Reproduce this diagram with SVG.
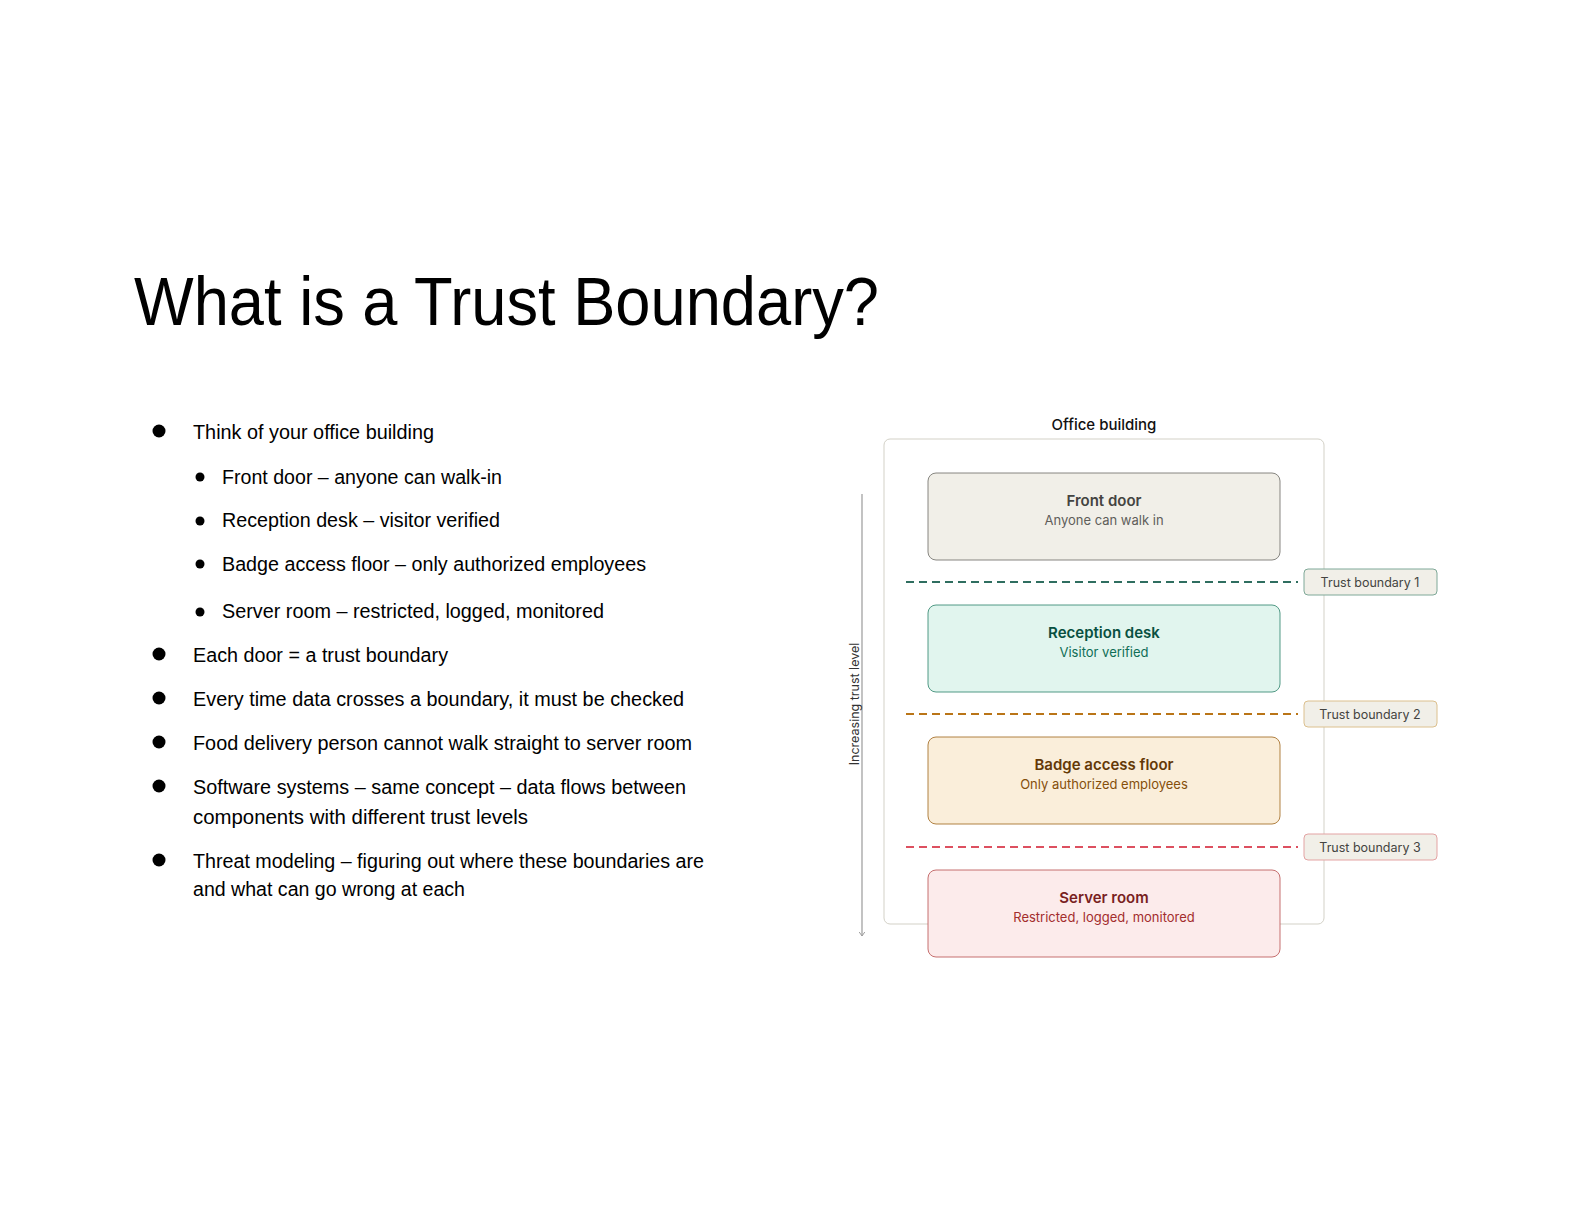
<svg xmlns="http://www.w3.org/2000/svg" width="1584" height="1224" viewBox="0 0 1584 1224">
  <defs>
    <style>
      .title { font-family: "Liberation Sans", Arial, sans-serif; font-size: 68px; fill: #000; }
      .body { font-family: "Liberation Sans", Arial, sans-serif; font-size: 20px; fill: #000; }
      .dg { font-family: Inter, "Liberation Sans", Arial, sans-serif; text-anchor: middle; }
      .bt { font-size: 15px; font-weight: 600; }
      .bs { font-size: 13px; }
      .lbl { font-size: 12.5px; fill: #444441; }
      .box { stroke-width: 0.9; }
      .tb { fill: none; stroke-width: 2; stroke-dasharray: 8 5; }
      .tag { fill: #f1efe8; stroke-width: 1; }
    </style>
    <marker id="arr" viewBox="0 0 10 10" refX="9" refY="5" markerWidth="8" markerHeight="8" orient="auto" markerUnits="userSpaceOnUse">
      <path d="M4 1.5 L9 5 L4 8.5" fill="none" stroke="#9a9a9a" stroke-width="1.2"/>
    </marker>
  </defs>
  <rect width="1584" height="1224" fill="#ffffff"/>

  <g id="title">
    <text class="title" x="134" y="325" textLength="745" lengthAdjust="spacingAndGlyphs">What is a Trust Boundary?</text>
  </g>

  <g id="bullets">
    <circle cx="159" cy="431" r="6.5" fill="#000"/>
    <text class="body" x="193" y="439" textLength="241" lengthAdjust="spacingAndGlyphs">Think of your office building</text>
    <circle cx="200" cy="477" r="4.5" fill="#000"/>
    <text class="body" x="222" y="484" textLength="280" lengthAdjust="spacingAndGlyphs">Front door – anyone can walk-in</text>
    <circle cx="200" cy="521" r="4.5" fill="#000"/>
    <text class="body" x="222" y="527" textLength="278" lengthAdjust="spacingAndGlyphs">Reception desk – visitor verified</text>
    <circle cx="200" cy="564" r="4.5" fill="#000"/>
    <text class="body" x="222" y="571" textLength="424" lengthAdjust="spacingAndGlyphs">Badge access floor – only authorized employees</text>
    <circle cx="200" cy="612" r="4.5" fill="#000"/>
    <text class="body" x="222" y="618" textLength="382" lengthAdjust="spacingAndGlyphs">Server room – restricted, logged, monitored</text>
    <circle cx="159" cy="654" r="6.5" fill="#000"/>
    <text class="body" x="193" y="662" textLength="255" lengthAdjust="spacingAndGlyphs">Each door = a trust boundary</text>
    <circle cx="159" cy="698" r="6.5" fill="#000"/>
    <text class="body" x="193" y="706" textLength="491" lengthAdjust="spacingAndGlyphs">Every time data crosses a boundary, it must be checked</text>
    <circle cx="159" cy="742" r="6.5" fill="#000"/>
    <text class="body" x="193" y="750" textLength="499" lengthAdjust="spacingAndGlyphs">Food delivery person cannot walk straight to server room</text>
    <circle cx="159" cy="786" r="6.5" fill="#000"/>
    <text class="body" x="193" y="794" textLength="493" lengthAdjust="spacingAndGlyphs">Software systems – same concept – data flows between</text>
    <text class="body" x="193" y="824" textLength="335" lengthAdjust="spacingAndGlyphs">components with different trust levels</text>
    <circle cx="159" cy="860" r="6.5" fill="#000"/>
    <text class="body" x="193" y="868" textLength="511" lengthAdjust="spacingAndGlyphs">Threat modeling – figuring out where these boundaries are</text>
    <text class="body" x="193" y="896" textLength="272" lengthAdjust="spacingAndGlyphs">and what can go wrong at each</text>
  </g>

  <g id="building">
    <text class="dg" x="1104" y="430" font-size="15" font-weight="500" fill="#111">Office building</text>
    <rect x="884" y="439" width="440" height="485" rx="6" fill="#ffffff" stroke="#d3d1c7" stroke-width="1"/>
  </g>

  <g id="connectors">
    <line x1="862" y1="494" x2="862" y2="936" stroke="#9a9a9a" stroke-width="1.2" marker-end="url(#arr)"/>
    <line class="tb" x1="906" y1="582" x2="1298" y2="582" stroke="#2f6e60"/>
    <line class="tb" x1="906" y1="714" x2="1298" y2="714" stroke="#ba7517"/>
    <line class="tb" x1="906" y1="847" x2="1298" y2="847" stroke="#dd5060"/>
  </g>

  <g id="axis-label">
    <text class="dg" transform="translate(859 704) rotate(-90)" font-size="12.5" fill="#333">Increasing trust level</text>
  </g>

  <g id="front-door">
    <rect class="box" x="928" y="473" width="352" height="87" rx="8" fill="#f1efe8" stroke="#7a7974"/>
    <text class="dg bt" x="1104" y="506" fill="#444441">Front door</text>
    <text class="dg bs" x="1104" y="525" fill="#5f5e5a">Anyone can walk in</text>
  </g>

  <g id="reception-desk">
    <rect class="box" x="928" y="605" width="352" height="87" rx="8" fill="#e1f5ee" stroke="#3f8f78"/>
    <text class="dg bt" x="1104" y="638" fill="#085041">Reception desk</text>
    <text class="dg bs" x="1104" y="657" fill="#0f6e56">Visitor verified</text>
  </g>

  <g id="badge-access-floor">
    <rect class="box" x="928" y="737" width="352" height="87" rx="8" fill="#faeeda" stroke="#a87430"/>
    <text class="dg bt" x="1104" y="770" fill="#633806">Badge access floor</text>
    <text class="dg bs" x="1104" y="789" fill="#854f0b">Only authorized employees</text>
  </g>

  <g id="server-room">
    <rect class="box" x="928" y="870" width="352" height="87" rx="8" fill="#fcebeb" stroke="#bf6060"/>
    <text class="dg bt" x="1104" y="903" fill="#791f1f">Server room</text>
    <text class="dg bs" x="1104" y="922" fill="#a32d2d">Restricted, logged, monitored</text>
  </g>

  <g id="trust-boundary-1">
    <rect class="tag" x="1304" y="569" width="133" height="26" rx="4" stroke="#7fa898"/>
    <text class="dg lbl" x="1370" y="587">Trust boundary 1</text>
  </g>
  <g id="trust-boundary-2">
    <rect class="tag" x="1304" y="701" width="133" height="26" rx="4" stroke="#dcc08e"/>
    <text class="dg lbl" x="1370" y="719">Trust boundary 2</text>
  </g>
  <g id="trust-boundary-3">
    <rect class="tag" x="1304" y="834" width="133" height="26" rx="4" stroke="#e3a3a3"/>
    <text class="dg lbl" x="1370" y="852">Trust boundary 3</text>
  </g>
</svg>
